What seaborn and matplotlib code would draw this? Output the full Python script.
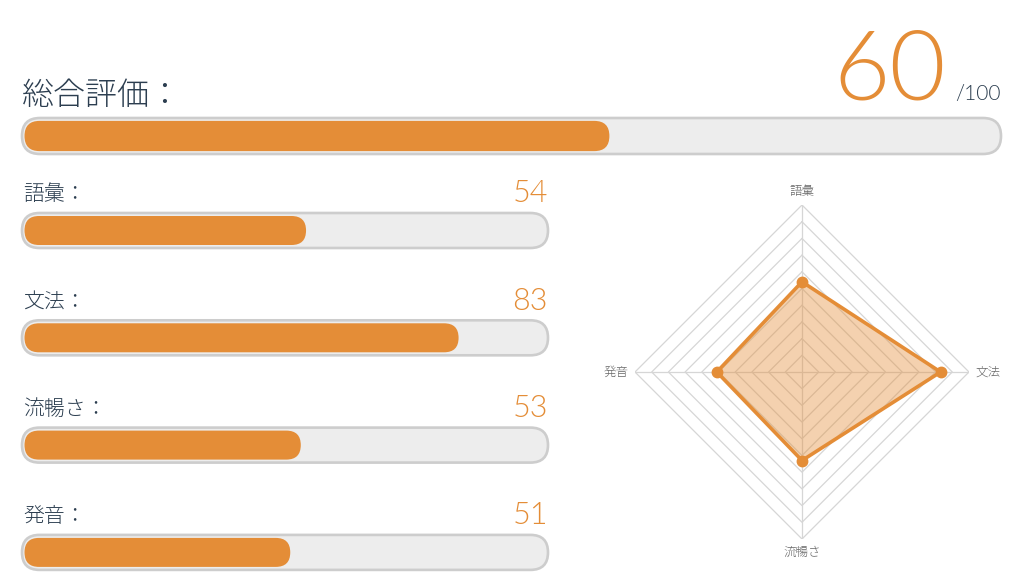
import numpy as np
import matplotlib
matplotlib.use("Agg")
import matplotlib.pyplot as plt
from matplotlib.patches import FancyBboxPatch
import seaborn as sns

# ---------------- data ----------------
overall_label = "総合評価："
overall_score = 60
overall_max = "/100"
categories = ["語彙", "文法", "流暢さ", "発音"]
scores = [54, 83, 53, 51]
radar_order = ["語彙", "文法", "流暢さ", "発音"]
radar_ticks = [10, 20, 30, 40, 50, 60, 70, 80, 90, 100]

ORANGE = "#E48D37"
TRACK = "#EDEDED"
TRACK_EDGE = "#CDCDCD"
NAVY = "#2C3E50"
GREY = "#666666"
CJK = ["Noto Sans CJK JP", "DejaVu Sans"]
NUM = ["Lato", "DejaVu Sans"]

sns.set_theme(style="white")
plt.rcParams["font.family"] = CJK

W, H = 1024, 587
fig = plt.figure(figsize=(W / 100, H / 100), dpi=100)
fig.patch.set_facecolor("white")


def px_axes(left, top, right, bottom, **kw):
    return fig.add_axes([left / W, 1 - bottom / H, (right - left) / W, (bottom - top) / H], **kw)


def round_patches(ax, patches, xunit, yunit, inset_px=0.0, **style):
    """Replace seaborn's rectangular bars with rounded ones (same geometry)."""
    for p in list(patches):
        x, y, w, h = p.get_x(), p.get_y(), p.get_width(), p.get_height()
        fc = p.get_facecolor()
        p.remove()
        dx = inset_px / xunit
        r = (abs(h) * yunit / 2) / xunit
        ax.add_patch(FancyBboxPatch((x + dx, y), w - dx, h,
                                    boxstyle=f"round,pad=0,rounding_size={r}",
                                    mutation_aspect=xunit / yunit,
                                    facecolor=fc, clip_on=False, **style))


# ---------------- overall bar ----------------
ax0 = px_axes(22, 100, 1001, 172)
xu0, yu0 = 979 / 100, 72
sns.barplot(x=[100], y=[overall_label], orient="h", color=TRACK, width=0.5, ax=ax0,
            saturation=1)
round_patches(ax0, ax0.patches, xu0, yu0, edgecolor=TRACK_EDGE, linewidth=1.9)
n_before = len(ax0.patches)
sns.barplot(x=[overall_score], y=[overall_label], orient="h", color=ORANGE, width=0.42,
            ax=ax0, saturation=1)
round_patches(ax0, ax0.patches[n_before:], xu0, yu0, inset_px=2.5, edgecolor="none")
ax0.set_xlim(0, 100)
ax0.set_ylim(0.5, -0.5)
ax0.axis("off")

fig.text(22 / W, 1 - 96 / H, overall_label, fontsize=23, color=NAVY, va="center",
         ha="left", family=CJK, fontweight=300)
fig.text(946 / W, 1 - 100 / H, str(overall_score), fontsize=70, color=ORANGE,
         ha="right", va="baseline", family=NUM, fontweight=300)
fig.text(955 / W, 1 - 100 / H, overall_max, fontsize=15, color=NAVY,
         ha="left", va="baseline", family=NUM, fontweight=300)

# ---------------- sub bars ----------------
spacing = 107.3
c0 = 230.5
top, bot = 170, 585
ax1 = px_axes(22, top, 548, bot)
xunit = 526 / 100
sns.barplot(x=[100] * len(categories), y=categories, orient="h", color=TRACK,
            width=35 / spacing, ax=ax1, saturation=1)
round_patches(ax1, ax1.patches, xunit, spacing, edgecolor=TRACK_EDGE, linewidth=1.9)
n_before = len(ax1.patches)
sns.barplot(x=scores, y=categories, orient="h", color=ORANGE, width=29 / spacing,
            ax=ax1, saturation=1)
round_patches(ax1, ax1.patches[n_before:], xunit, spacing, inset_px=2.5, edgecolor="none")
ax1.set_xlim(0, 100)
ax1.set_ylim((bot - c0) / spacing, (top - c0) / spacing)
ax1.axis("off")
for i, (cat, s) in enumerate(zip(categories, scores)):
    ax1.text(0.2, i - 36 / spacing, cat + "：", fontsize=15, color=NAVY, ha="left",
             va="center", family=CJK, fontweight=300)
    ax1.text(100, i - 28 / spacing, str(s), fontsize=22, color=ORANGE, ha="right",
             va="baseline", family=NUM, fontweight=300)

# ---------------- radar ----------------
cx, cy, R = 802, 372, 167
axr = px_axes(cx - R, cy - R, cx + R, cy + R, projection="polar")
axr.set_theta_zero_location("N")
axr.set_theta_direction(-1)
angles = np.linspace(0, 2 * np.pi, len(radar_order), endpoint=False)
ang_c = np.append(angles, angles[0])
for t in radar_ticks:
    axr.plot(ang_c, [t] * len(ang_c), color="#D6D6D6", lw=0.9, zorder=1)
for a in angles:
    axr.plot([a, a], [0, radar_ticks[-1]], color="#D6D6D6", lw=0.9, zorder=1)
vals = [scores[categories.index(c)] for c in radar_order]
vals_c = vals + vals[:1]
axr.fill(ang_c, vals_c, color=ORANGE, alpha=0.4, lw=0, zorder=2)
axr.plot(ang_c, vals_c, color=ORANGE, lw=2.6, zorder=3, solid_joinstyle="miter")
axr.plot(angles, vals, "o", color=ORANGE, ms=7.5, zorder=4)
axr.set_ylim(0, 100)
axr.grid(False)
axr.spines["polar"].set_visible(False)
axr.set_xticks([])
axr.set_yticks([])
axr.patch.set_alpha(0)
label_pos = {0: (108, "center"), 1: (104, "left"), 2: (108, "center"), 3: (104, "right")}
for i, (a, lab) in enumerate(zip(angles, radar_order)):
    r, ha = label_pos[i]
    axr.text(a, r, lab, fontsize=9, color=GREY, ha=ha, va="center", family=CJK,
             fontweight=300, clip_on=False)

fig.savefig("out.png", dpi=100, facecolor="white")
